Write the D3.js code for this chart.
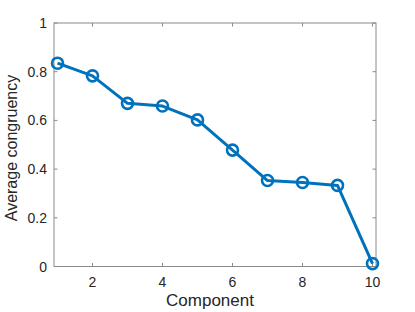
<html>
    <head>
        <style type="text/css">
            body{ margin:0px; padding:0px; background:#fff; }
            svg{ display:block; font-family:"Liberation Sans", Arial, sans-serif; }
        </style>
        <script src="https://d3js.org/d3.v7.min.js"></script>
    </head>
    <body>
        <script type="text/javascript">
            // data
            var components = [1, 2, 3, 4, 5, 6, 7, 8, 9, 10];
            var congruency = [0.835, 0.783, 0.670, 0.659, 0.602, 0.478, 0.353, 0.345, 0.333, 0.012];
            var xTicks = [2, 4, 6, 8, 10];
            var yTicks = [0, 0.2, 0.4, 0.6, 0.8, 1];

            var W = 415, H = 312;
            // plot box edges (note: "top" is reserved on window, so use pTop etc.)
            var pLeft = 54, pRight = 376, pTop = 23, pBottom = 266.5;
            var blue = "#0072BD", axisCol = "#8a8a8a", textCol = "#262626";

            var svg = d3.select("body").append("svg").attr("width", W).attr("height", H);

            var x = d3.scaleLinear().domain([0.9, 10.1]).range([pLeft, pRight]);
            var y = d3.scaleLinear().domain([0, 1]).range([pBottom, pTop]);

            // box
            svg.append("rect").attr("x", pLeft).attr("y", pTop)
                .attr("width", pRight - pLeft).attr("height", pBottom - pTop)
                .attr("fill", "none").attr("stroke", axisCol).attr("stroke-width", 1);

            // ticks pointing inward, on all four sides
            var tl = 3.5;
            xTicks.forEach(function(t){
                svg.append("line").attr("x1", x(t)).attr("x2", x(t)).attr("y1", pBottom).attr("y2", pBottom - tl).attr("stroke", axisCol);
                svg.append("line").attr("x1", x(t)).attr("x2", x(t)).attr("y1", pTop).attr("y2", pTop + tl).attr("stroke", axisCol);
                svg.append("text").attr("x", x(t)).attr("y", pBottom + 20).attr("text-anchor", "middle")
                    .attr("font-size", "14px").attr("fill", textCol).text(t);
            });
            yTicks.forEach(function(t){
                svg.append("line").attr("x1", pLeft).attr("x2", pLeft + tl).attr("y1", y(t)).attr("y2", y(t)).attr("stroke", axisCol);
                svg.append("line").attr("x1", pRight).attr("x2", pRight - tl).attr("y1", y(t)).attr("y2", y(t)).attr("stroke", axisCol);
                svg.append("text").attr("x", pLeft - 7).attr("y", y(t) + 5).attr("text-anchor", "end")
                    .attr("font-size", "14px").attr("fill", textCol).text(t);
            });

            // labels
            svg.append("text").attr("x", 210).attr("y", 306).attr("text-anchor", "middle")
                .attr("font-size", "17px").attr("fill", textCol).text("Component");
            svg.append("text").attr("transform", "translate(17,148) rotate(-90)")
                .attr("text-anchor", "middle").attr("font-size", "16px").attr("fill", textCol).text("Average congruency");

            var pts = components.map(function(c, i){ return [c, congruency[i]]; });
            var line = d3.line().x(function(d){ return x(d[0]); }).y(function(d){ return y(d[1]); });

            svg.append("path").datum(pts).attr("d", line).attr("fill", "none")
                .attr("stroke", blue).attr("stroke-width", 3).attr("stroke-linejoin", "round");

            svg.selectAll("circle.m").data(pts).enter().append("circle").attr("class", "m")
                .attr("cx", function(d){ return x(d[0]); }).attr("cy", function(d){ return y(d[1]); })
                .attr("r", 5.5).attr("fill", "none").attr("stroke", blue).attr("stroke-width", 2.6);
        </script>
    </body>
</html>
